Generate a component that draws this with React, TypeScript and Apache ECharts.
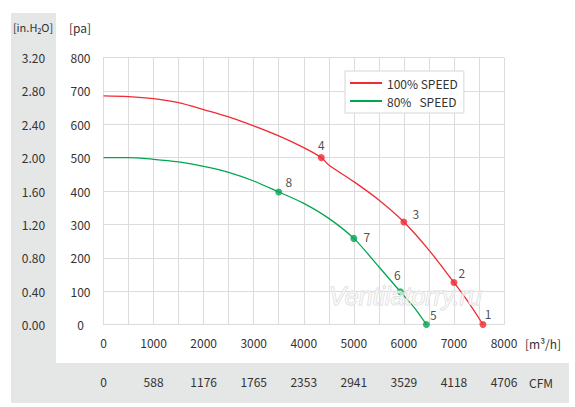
import React, { useEffect, useRef } from "react";
import * as echarts from "echarts";

// Flow in m³/h and pressure in Pa
const red100Flow = [0, 500, 1000, 1500, 2000, 2500, 3000, 3500, 4000, 4350, 4500, 5000, 5500, 6000, 6500, 7000, 7250, 7580];
const red100Pa = [685, 683, 677, 665, 644, 622, 595, 565, 530, 500, 478, 428, 373, 307, 223, 126, 75, 0];
const green80Flow = [0, 500, 1000, 1500, 2000, 2500, 3000, 3500, 4000, 4500, 5000, 5500, 5930, 6200, 6450];
const green80Pa = [500, 500, 495, 487, 474, 456, 430, 397, 363, 318, 258, 173, 98, 52, 0];

const red100PointLabels = ["1", "2", "3", "4"];
const red100PointFlow = [7580, 7000, 6000, 4350];
const red100PointPa = [0, 126, 307, 500];
const green80PointLabels = ["5", "6", "7", "8"];
const green80PointFlow = [6450, 5930, 5000, 3500];
const green80PointPa = [0, 98, 258, 397];

const seriesNames = ["100% SPEED", "80%   SPEED"];
const cfmTickLabels = ["0", "588", "1176", "1765", "2353", "2941", "3529", "4118", "4706"];
const inH2OTickLabels = ["0.00", "0.40", "0.80", "1.20", "1.60", "2.00", "2.40", "2.80", "3.20"];

const RED = "#ef2b33";
const GREEN = "#00a650";
const FONT = "'Noto Sans CJK SC', 'Noto Sans', sans-serif";
const TXT = "#333";

// label placement per point (styling, not data)
const labelOffsets: Record<string, number[]> = {
  "1": [5, -11], "2": [8, -10], "3": [12, -9], "4": [0, -13],
  "5": [7, -10], "6": [-3, -17], "7": [13, -2], "8": [10, -11],
};

function pairs(xs: number[], ys: number[]) {
  return xs.map((x, i) => [x, ys[i]]);
}
function points(labels: string[], xs: number[], ys: number[]) {
  return labels.map((l, i) => ({
    value: [xs[i], ys[i]],
    name: l,
    label: { offset: labelOffsets[l] },
  }));
}

export default function App() {
  const ref = useRef<HTMLDivElement>(null);
  useEffect(() => {
    document.body.style.margin = "0";
    const chart = echarts.init(ref.current!, null, { renderer: "svg" });
    const gridLine = { show: true, lineStyle: { color: "#dcdcdc", width: 1 } };
    const txt = (text: string, x: number, y: number, size = 12, align = "center") => ({
      type: "text",
      x,
      y,
      style: { text, fill: TXT, fontSize: size, fontFamily: FONT, align, verticalAlign: "middle" },
    });
    chart.setOption({
      animation: false,
      textStyle: { fontFamily: FONT },
      grid: { left: 103.5, right: 71, top: 57.5, bottom: 82.5, containLabel: false },
      legend: {
        data: seriesNames.map((n) => ({ name: n, icon: "rect" })),
        orient: "vertical",
        left: 345,
        top: 71,
        itemWidth: 32,
        itemHeight: 2,
        itemGap: 6,
        padding: [6, 6, 6, 5],
        backgroundColor: "#fff",
        borderColor: "#d6d6d6",
        borderWidth: 1,
        textStyle: { color: TXT, fontSize: 12, fontFamily: FONT },
      },
      xAxis: [
        {
          type: "value",
          min: 0,
          max: 8000,
          interval: 500,
          position: "bottom",
          axisLine: { show: true, lineStyle: { color: "#dcdcdc" } },
          axisTick: { show: false },
          splitLine: gridLine,
          axisLabel: {
            color: TXT,
            fontSize: 12,
            margin: 12,
            formatter: (v: number) => (v % 1000 === 0 ? String(v) : ""),
          },
        },
        {
          type: "value",
          min: 0,
          max: 8000,
          interval: 500,
          position: "bottom",
          offset: 39,
          axisLine: { show: false },
          axisTick: { show: false },
          splitLine: { show: false },
          axisLabel: {
            color: TXT,
            fontSize: 12,
            margin: 12,
            formatter: (v: number) => (v % 1000 === 0 ? cfmTickLabels[v / 1000] : ""),
          },
        },
      ],
      yAxis: [
        {
          type: "value",
          min: 0,
          max: 800,
          interval: 100,
          position: "left",
          axisLine: { show: true, lineStyle: { color: "#dcdcdc" } },
          axisTick: { show: false },
          splitLine: gridLine,
          axisLabel: { color: TXT, fontSize: 12, margin: 23, align: "center" },
        },
        {
          type: "value",
          min: 0,
          max: 800,
          interval: 100,
          position: "left",
          axisLine: { show: false },
          axisTick: { show: false },
          splitLine: { show: false },
          axisLabel: {
            color: TXT,
            fontSize: 12,
            margin: 70,
            align: "center",
            formatter: (v: number) => inH2OTickLabels[Math.round(v / 100)],
          },
        },
      ],
      graphic: [
        { type: "rect", z: -10, shape: { x: 11, y: 13, width: 45, height: 390 }, style: { fill: "#e5e6e6" } },
        { type: "rect", z: -10, shape: { x: 11, y: 363, width: 558, height: 40 }, style: { fill: "#e5e6e6" } },
        txt("[in.H₂O]", 33, 27, 11),
        txt("[pa]", 80, 27, 12),
        txt("[m³/h]", 525, 343, 12, "left"),
        txt("CFM", 529, 382, 12, "left"),
        {
          type: "text",
          x: 329,
          y: 296,
          z: 100,
          style: {
            text: "Ventilatorry.ru",
            fill: "rgba(255,255,255,0.55)",
            stroke: "#d9d9d9",
            lineWidth: 1,
            fontSize: 25,
            fontStyle: "italic",
            fontFamily: "'Liberation Sans', Arial, sans-serif",
            verticalAlign: "middle",
          },
        },
      ],
      series: [
        {
          name: seriesNames[0],
          type: "line",
          smooth: 0.3,
          showSymbol: false,
          data: pairs(red100Flow, red100Pa),
          lineStyle: { color: RED, width: 1.3 },
          itemStyle: { color: RED },
        },
        {
          name: seriesNames[1],
          type: "line",
          smooth: 0.3,
          showSymbol: false,
          data: pairs(green80Flow, green80Pa),
          lineStyle: { color: GREEN, width: 1.3 },
          itemStyle: { color: GREEN },
        },
        {
          type: "scatter",
          symbolSize: 7,
          itemStyle: { color: RED },
          data: points(red100PointLabels, red100PointFlow, red100PointPa),
          label: { show: true, position: "inside", formatter: "{b}", color: "#222", fontSize: 12 },
          z: 5,
        },
        {
          type: "scatter",
          symbolSize: 7,
          itemStyle: { color: GREEN },
          data: points(green80PointLabels, green80PointFlow, green80PointPa),
          label: { show: true, position: "inside", formatter: "{b}", color: "#222", fontSize: 12 },
          z: 5,
        },
      ],
    });
    return () => chart.dispose();
  }, []);
  return <div ref={ref} style={{ width: 575, height: 407 }} />;
}
